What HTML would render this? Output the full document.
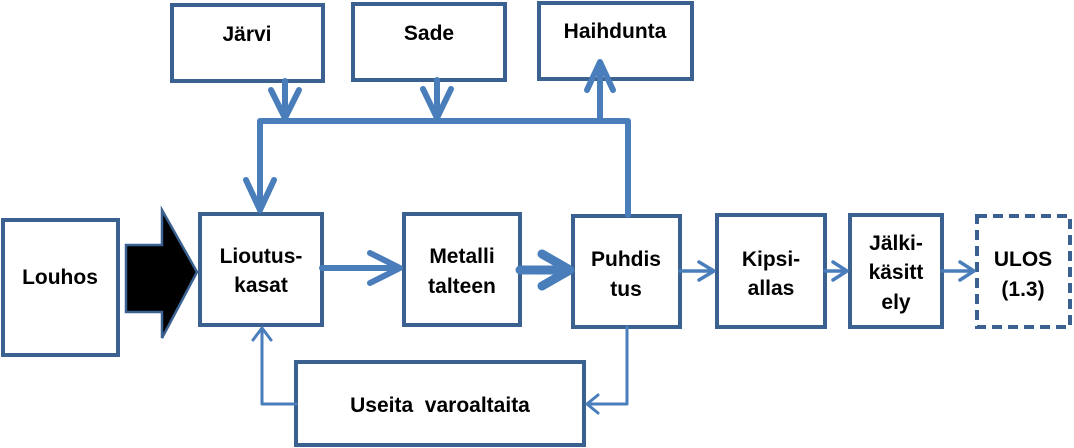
<!DOCTYPE html>
<html><head><meta charset="utf-8"><style>
html,body{margin:0;padding:0;background:#fff;width:1074px;height:448px;overflow:hidden}
text{font-family:"Liberation Sans",sans-serif;font-weight:bold;font-size:21px;fill:#000;text-anchor:middle}
</style></head><body>
<svg width="1074" height="448" viewBox="0 0 1074 448" xmlns="http://www.w3.org/2000/svg">
<g fill="#fff" stroke="#3b6190" stroke-width="4">
<rect x="172" y="5" width="151" height="76"/>
<rect x="353" y="4" width="152" height="76"/>
<rect x="539" y="3" width="153" height="76"/>
<rect x="3" y="220" width="115" height="135"/>
<rect x="200" y="214" width="122" height="111"/>
<rect x="404" y="214" width="116" height="111"/>
<rect x="573" y="216" width="107" height="111"/>
<rect x="717" y="215" width="108" height="112"/>
<rect x="850" y="215" width="92" height="112"/>
<rect x="977" y="216" width="93" height="111" stroke-dasharray="10,6"/>
<rect x="296" y="362" width="288" height="83"/>
</g>
<polygon points="126,245 162,245 162,210 197,272 162,338 162,312 126,312" fill="#000" stroke="#3b6190" stroke-width="2.5"/>
<g stroke="#4a7ebb" fill="none" stroke-linecap="round" stroke-linejoin="round">
<path d="M628,215 V121 H260 V210" stroke-width="6"/>
<path d="M246,180 L260,210 L274,180" stroke-width="6"/>
<path d="M285,81 V121 M271,90 L285,118 L299,90" stroke-width="6"/>
<path d="M437,80 V121 M423,89 L437,118 L451,89" stroke-width="6"/>
<path d="M600,121 V62 M587,90 L600,62 L613,90" stroke-width="6"/>
<path d="M322,268 H400 M370,253 L400,268 L370,283" stroke-width="6"/>
<path d="M520,270 H570 M542,254 L570,270 L542,286" stroke-width="9"/>
<path d="M680,271 H714 M699,262 L714,271 L699,280" stroke-width="3.5"/>
<path d="M825,271 H847 M833,262 L847,271 L833,280" stroke-width="3.5"/>
<path d="M942,271 H974 M960,262 L974,271 L960,280" stroke-width="3.5"/>
<path d="M627,327 V404 H587 M598,395 L587,404 L598,413" stroke-width="3"/>
<path d="M296,404 H262 V328 M253,340 L262,328 L271,340" stroke-width="3"/>
</g>
<text x="247" y="41">Järvi</text>
<text x="429" y="40">Sade</text>
<text x="615" y="38">Haihdunta</text>
<text x="60" y="284">Louhos</text>
<text x="261" y="263">Lioutus-</text>
<text x="261" y="292">kasat</text>
<text x="462" y="263">Metalli</text>
<text x="462" y="293">talteen</text>
<text x="626" y="266">Puhdis</text>
<text x="626" y="296">tus</text>
<text x="771" y="266">Kipsi-</text>
<text x="771" y="295">allas</text>
<text x="896" y="250">Jälki-</text>
<text x="896" y="279">käsitt</text>
<text x="896" y="309">ely</text>
<text x="1023" y="266">ULOS</text>
<text x="1023" y="296">(1.3)</text>
<text x="440" y="412" xml:space="preserve">Useita  varoaltaita</text>
</svg>
</body></html>
